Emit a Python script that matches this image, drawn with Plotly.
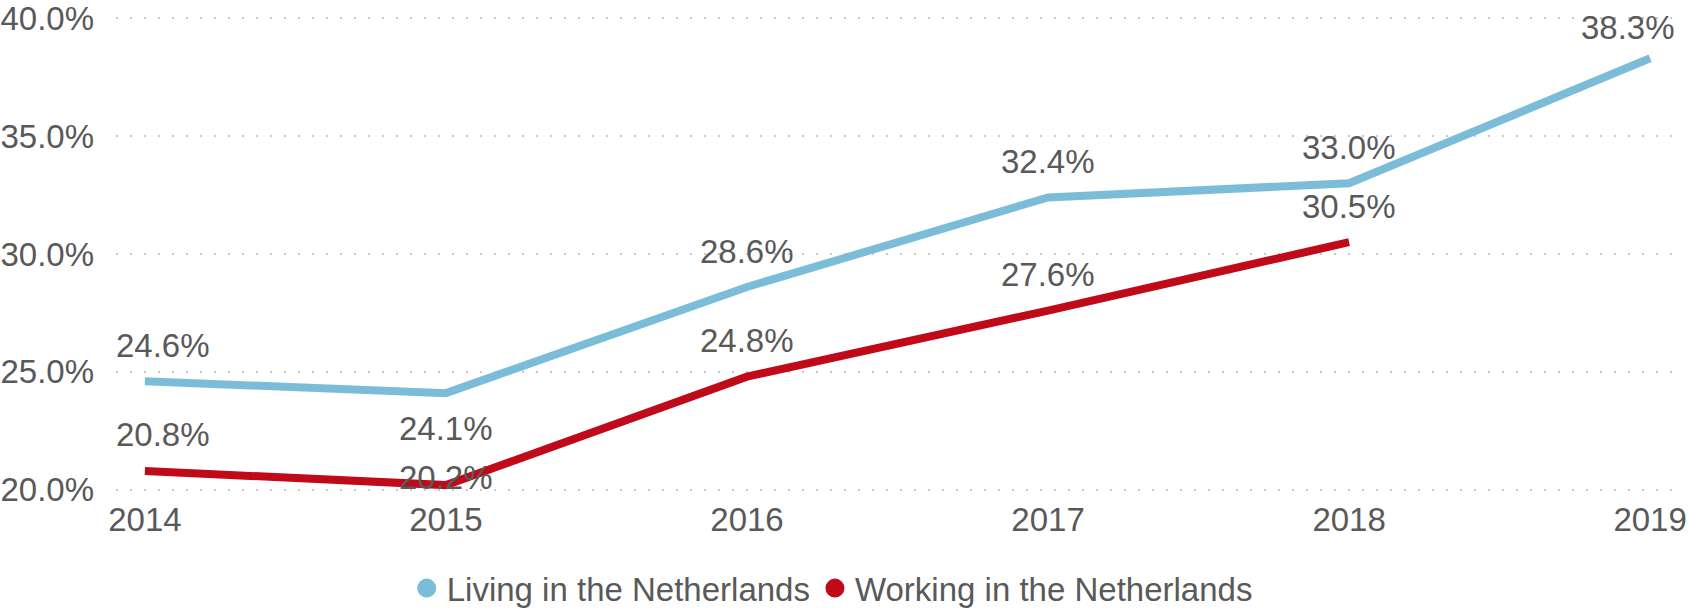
import plotly.graph_objects as go

# Share of people, by year
years = ["2014", "2015", "2016", "2017", "2018", "2019"]
living = [24.6, 24.1, 28.6, 32.4, 33.0, 38.3]
working = [20.8, 20.2, 24.8, 27.6, 30.5]
y_ticks = [20, 25, 30, 35, 40]

series_names = ["Living in the Netherlands", "Working in the Netherlands"]
colors = ["#7BBDD8", "#C00A19"]
text_color = "#595959"
font_family = "Liberation Sans, Arial, sans-serif"
font_size = 33

# Per-label pixel nudges (dx, dy) so labels stay readable and inside the plot
label_nudge = {
    (0, 0): (18, 36), (0, 1): (0, -35), (0, 5): (-22, 31),
    (1, 0): (18, 36), (1, 1): (0, 8),
}
default_nudge = (0, 36)

fig = go.Figure()
for i, (name, vals) in enumerate(zip(series_names, [living, working])):
    fig.add_trace(go.Scatter(
        x=years[:len(vals)], y=vals, mode="lines", name=name,
        line=dict(color=colors[i], width=8), showlegend=False,
        text=[f"{v:.1f}%" for v in vals], hoverinfo="text",
    ))
    # legend entry shown as a round marker
    fig.add_trace(go.Scatter(
        x=[None], y=[None], mode="markers", name=name,
        marker=dict(color=colors[i], size=19, symbol="circle",
                    line=dict(color=colors[i], width=3)),
    ))

annotations = []
for i, vals in enumerate([living, working]):
    for j, v in enumerate(vals):
        dx, dy = label_nudge.get((i, j), default_nudge)
        annotations.append(dict(
            x=j, y=v, xref="x", yref="y", text=f"{v:.1f}%",
            showarrow=False, xanchor="center", yanchor="middle",
            xshift=dx, yshift=dy,
            font=dict(size=font_size, color=text_color, family=font_family),
        ))

fig.update_layout(
    width=1689, height=610,
    margin=dict(l=116, r=16, t=17, b=119, autoexpand=False),
    paper_bgcolor="white", plot_bgcolor="white",
    font=dict(family=font_family, size=font_size, color=text_color),
    annotations=annotations,
    legend=dict(
        orientation="h", x=0.46, xanchor="center", y=-0.205, yanchor="middle",
        font=dict(size=font_size, color=text_color, family=font_family),
        itemwidth=30, traceorder="normal", bgcolor="rgba(0,0,0,0)",
    ),
    xaxis=dict(
        type="category", range=[-0.096, 5.076], showgrid=False,
        showline=False, zeroline=False, ticks="", ticklabelstandoff=6,
        automargin=False, ticklabeloverflow="allow",
        tickfont=dict(size=font_size, color=text_color, family=font_family),
    ),
    yaxis=dict(
        range=[19.95, 40.05], tickvals=y_ticks,
        ticktext=[f"{t:.1f}%" for t in y_ticks],
        showgrid=True, gridcolor="#C8C8C8", gridwidth=2, griddash="2px,12px",
        showline=False, zeroline=False, ticks="", ticklabelstandoff=21,
        automargin=False, ticklabeloverflow="allow",
        tickfont=dict(size=font_size, color=text_color, family=font_family),
    ),
)

fig.write_html("out.html")
